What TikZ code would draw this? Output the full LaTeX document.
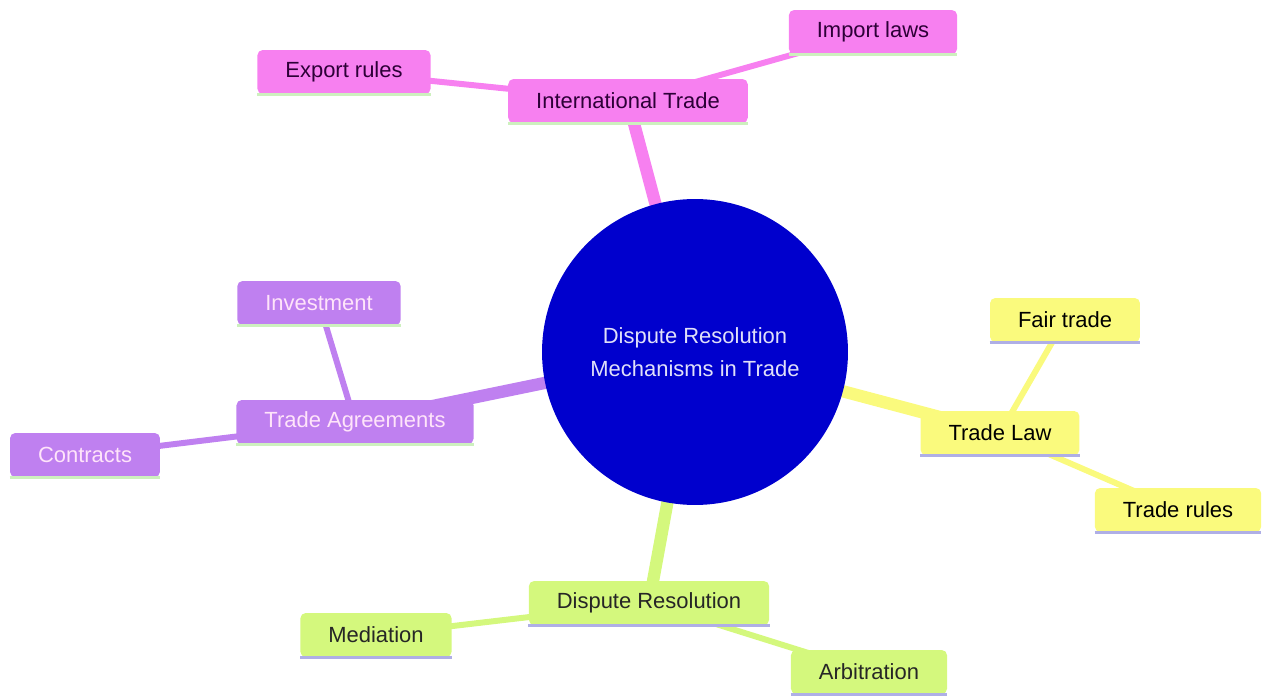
\documentclass[tikz,border=0pt]{standalone}
\usepackage{fontspec}
\setmainfont{Liberation Sans}
\usetikzlibrary{positioning}
\usetikzlibrary{backgrounds}
\definecolor{rootblue}{RGB}{0,0,205}
\definecolor{pinkfill}{RGB}{247,128,240}
\definecolor{purplefill}{RGB}{191,128,240}
\definecolor{yellowfill}{RGB}{250,250,125}
\definecolor{greenfill}{RGB}{212,248,125}
\definecolor{mintline}{RGB}{205,240,190}
\definecolor{lavline}{RGB}{175,175,230}
\definecolor{pinktext}{RGB}{45,0,55}
\definecolor{purpletext}{RGB}{255,228,250}
\tikzset{
  box/.style        = { rectangle, rounded corners=3pt, inner xsep=0.56cm, inner ysep=0pt, minimum height=0.88cm },
  underline/.style  = { append after command={(\tikzlastnode.south west) edge [draw=#1, line width=2pt] (\tikzlastnode.south east)} },
  hub/.style        = { circle, fill=rootblue, text=white!88!rootblue, minimum size=6.12cm, align=center },
}
\tikzset{
  pinkbox/.style    = { box, fill=pinkfill,   text=pinktext,   underline=mintline },
  purplebox/.style  = { box, fill=purplefill, text=purpletext, underline=mintline },
  yellowbox/.style  = { box, fill=yellowfill, text=black,      underline=lavline },
  greenbox/.style   = { box, fill=greenfill,  text=black!85,   underline=lavline },
  trunk/.style      = { line width=7pt },
  twig/.style       = { line width=3.4pt }
}

\begin{document}
\begin{tikzpicture}[
  x=0.02cm,y=-0.02cm,
  font=\fontsize{12.5}{19}\selectfont
]
  \useasboundingbox (0,0) rectangle (1262,696);

  \node (root)  [hub]       at (695,352)  {Dispute Resolution\\Mechanisms in Trade};

  \node (it)    [pinkbox]   at (628,101)  {International Trade};
  \node (exp)   [pinkbox]   at (344,72)   {Export rules};
  \node (imp)   [pinkbox]   at (873,32)   {Import laws};

  \node (ta)    [purplebox] at (355,422)  {Trade Agreements};
  \node (inv)   [purplebox] at (319,303)  {Investment};
  \node (con)   [purplebox] at (85,455)   {Contracts};

  \node (tl)    [yellowbox] at (1000,433) {Trade Law};
  \node (fair)  [yellowbox] at (1065,320) {Fair trade};
  \node (rules) [yellowbox] at (1178,510) {Trade rules};

  \node (dr)    [greenbox]  at (649,603)  {Dispute Resolution};
  \node (med)   [greenbox]  at (376,635)  {Mediation};
  \node (arb)   [greenbox]  at (869,672)  {Arbitration};

  \begin{scope}[on background layer]
    \draw [trunk,pinkfill]   (root.center) -- (it.center);
    \draw [twig,pinkfill]    (it.center)   -- (exp.center);
    \draw [twig,pinkfill]    (it.center)   -- (imp.center);

    \draw [trunk,purplefill] (root.center) -- (ta.center);
    \draw [twig,purplefill]  (ta.center)   -- (inv.center);
    \draw [twig,purplefill]  (ta.center)   -- (con.center);

    \draw [trunk,yellowfill] (root.center) -- (tl.center);
    \draw [twig,yellowfill]  (tl.center)   -- (fair.center);
    \draw [twig,yellowfill]  (tl.center)   -- (rules.center);

    \draw [trunk,greenfill]  (root.center) -- (dr.center);
    \draw [twig,greenfill]   (dr.center)   -- (med.center);
    \draw [twig,greenfill]   (dr.center)   -- (arb.center);
  \end{scope}
\end{tikzpicture}
\end{document}
